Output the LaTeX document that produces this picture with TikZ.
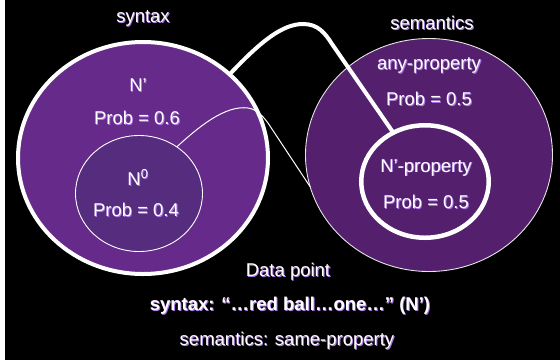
\documentclass[tikz,border=0pt]{standalone}
\usepackage{fontspec}
\setmainfont{Liberation Sans}
\usetikzlibrary{shapes.geometric}
\definecolor{lcfill}{RGB}{102,42,138}
\definecolor{nzfill}{RGB}{86,44,126}
\definecolor{rcfill}{RGB}{84,32,110}
\definecolor{shadowc}{RGB}{170,120,230}
\newcommand\shtxt[1]{\leavevmode\rlap{\kern0.9pt\raisebox{-0.9pt}{\color{shadowc}#1}}#1}
\tikzset{
  lbl/.style={text=white,inner sep=0pt,font=\fontsize{18.5}{22}\selectfont},
  blob/.style={ellipse,inner sep=0pt,outer sep=0pt},
  thickwire/.style={draw=white,line width=4pt,line cap=round},
  thinwire/.style={draw=white,line width=1pt}
}
\begin{document}
\begin{tikzpicture}[x=1pt,y=-1pt]
\fill[black] (0,0) rectangle (560,360);
\fill[white] (0,0) rectangle (5,360);
\useasboundingbox (0,0) rectangle (560,360);
% shapes
\node[blob,fill=lcfill,draw=white,line width=4pt,minimum width=250pt,minimum height=232pt] (lc) at (143,158) {};
\node[blob,fill=rcfill,draw=white!80!gray,line width=0.9pt,minimum width=247pt,minimum height=233pt] (rc) at (429,155) {};
\node[blob,fill=nzfill,draw=white,line width=0.9pt,minimum width=127pt,minimum height=116pt] (nz) at (139,193.5) {};
\node[blob,fill=rcfill,draw=white,line width=4.5pt,minimum width=127.5pt,minimum height=112.5pt] (np) at (425,181.5) {};
% connectors
\draw[thickwire] (lc.44) .. controls +(32,-34) and +(-20,0) .. (303,24) .. controls +(15,0) and +(-7,-11) .. (332,44) -- (np.123);
\draw[thinwire] (nz.51) .. controls +(22,-20) and +(-23,-3) .. (248,108) .. controls +(8,1) and +(-6,-8) .. (268,123) -- (rc.195);
% labels
\node[lbl] (tsyn) at (143,19) {\shtxt{syntax}};
\node[lbl] (tsem) at (432,23) {\shtxt{semantics}};
\node[lbl] (tn1) at (138,86) {\shtxt{N’}};
\node[lbl] (tp6) at (137,118) {\shtxt{Prob = 0.6}};
\node[lbl] (tn0) at (138,178) {\shtxt{N\textsuperscript{0}}};
\node[lbl] (tp4) at (136,210) {\shtxt{Prob = 0.4}};
\node[lbl] (tany) at (429,66) {\shtxt{any-property}};
\node[lbl] (tp5a) at (429,99) {\shtxt{Prob = 0.5}};
\node[lbl] (tnp) at (426,168) {\shtxt{N’-property}};
\node[lbl] (tp5b) at (426,202) {\shtxt{Prob = 0.5}};
\node[lbl] (tdp) at (288,272) {\shtxt{Data point}};
\node[lbl,font=\fontsize{18.5}{22}\selectfont\bfseries] (tsx) at (290,306) {\shtxt{syntax: “…red ball…one…” (N’)}};
\node[lbl] (tsm) at (287,341) {\shtxt{semantics: same-property}};
\end{tikzpicture}
\end{document}
